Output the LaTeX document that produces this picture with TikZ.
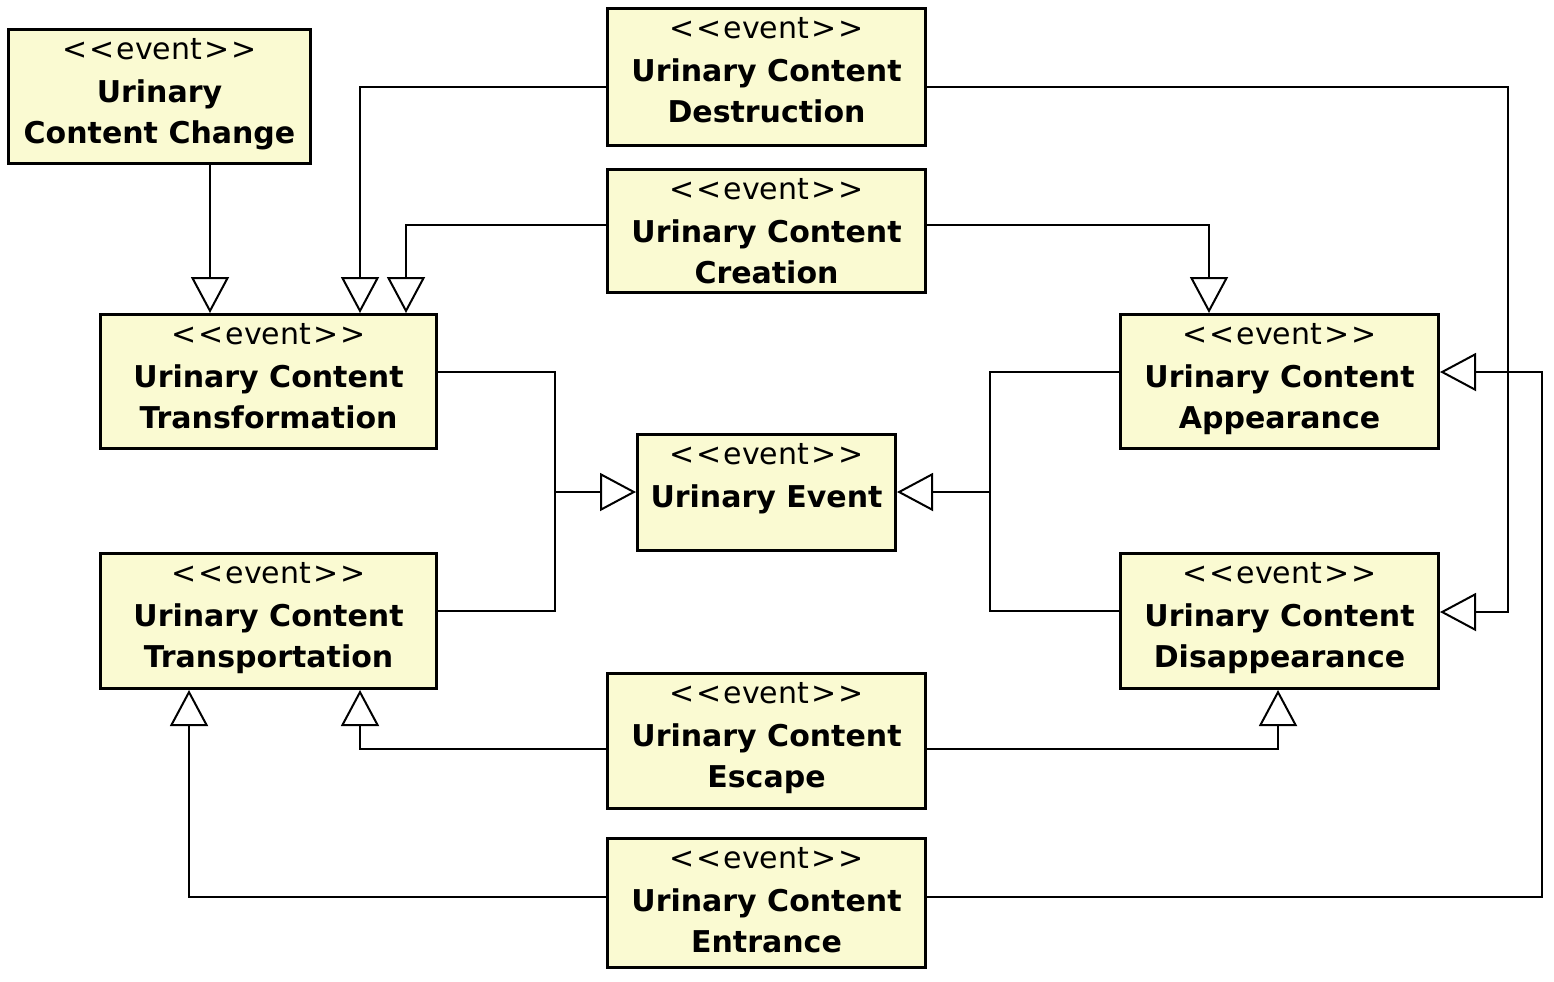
\documentclass[tikz,border=0pt]{standalone}
\usepackage{fontspec}
\setmainfont{DejaVu Sans}
\usetikzlibrary{arrows.meta}
\definecolor{evfill}{RGB}{250,250,210}
\newcommand{\evfont}{\fontsize{15}{20.5}\selectfont}
\newcommand{\stereo}{\rule{0pt}{15.5pt}<\kern1pt<\kern1pt event\kern1pt>\kern1pt>\\[1pt]}
\tikzset{
  evbox/.style={draw, line width=1.5pt, fill=evfill, inner sep=0pt},
  evtext/.style={anchor=north, inner sep=0pt, align=center, font=\evfont},
  link/.style={line width=1pt},
  gen/.style={link, -{Triangle[open, length=18pt, width=19pt]}}
}
\begin{document}
\begin{tikzpicture}[x=0.5pt, y=-0.5pt]
\useasboundingbox (0,0) rectangle (1554,981);
% event classes
\node[evbox, minimum width=151pt, minimum height=67pt, label={[evtext]north:{\stereo\textbf{Urinary}\\\textbf{Content Change}}}] (chg) at (159.5,96.5) {};
\node[evbox, minimum width=159pt, minimum height=68.5pt, label={[evtext]north:{\stereo\textbf{Urinary Content}\\\textbf{Destruction}}}] (dstr) at (766.5,77) {};
\node[evbox, minimum width=159pt, minimum height=61.5pt, label={[evtext]north:{\stereo\textbf{Urinary Content}\\\textbf{Creation}}}] (crt) at (766.5,231) {};
\node[evbox, minimum width=168pt, minimum height=67pt, label={[evtext]north:{\stereo\textbf{Urinary Content}\\\textbf{Transformation}}}] (trf) at (268.5,381.5) {};
\node[evbox, minimum width=159pt, minimum height=67pt, label={[evtext]north:{\stereo\textbf{Urinary Content}\\\textbf{Appearance}}}] (app) at (1279.5,381.5) {};
\node[evbox, minimum width=129pt, minimum height=58pt, label={[evtext]north:{\stereo\textbf{Urinary Event}}}] (evt) at (766.5,492.5) {};
\node[evbox, minimum width=168pt, minimum height=67.5pt, label={[evtext]north:{\stereo\textbf{Urinary Content}\\\textbf{Transportation}}}] (trp) at (268.5,621) {};
\node[evbox, minimum width=159pt, minimum height=67.5pt, label={[evtext]north:{\stereo\textbf{Urinary Content}\\\textbf{Disappearance}}}] (dis) at (1279.5,621) {};
\node[evbox, minimum width=159pt, minimum height=67.5pt, label={[evtext]north:{\stereo\textbf{Urinary Content}\\\textbf{Escape}}}] (esc) at (766.5,741) {};
\node[evbox, minimum width=159pt, minimum height=64.5pt, label={[evtext]north:{\stereo\textbf{Urinary Content}\\\textbf{Entrance}}}] (ent) at (766.5,903) {};
% junctions
\coordinate (jl) at (555,492);
\coordinate (jr) at (990,492);
% generalisations
\draw[gen] (chg.south -| 210,0) -- (trf.north -| 210,0);
\draw[gen] (dstr.west |- 0,87) -| (trf.north -| 360,0);
\draw[gen] (crt.west |- 0,225) -| (trf.north -| 406,0);
\draw[gen] (crt.east |- 0,225) -| (app.north -| 1209,0);
\draw[gen] (dstr.east |- 0,87) -| (1508,612) -- (dis.east |- 0,612);
\draw[gen] (ent.east |- 0,897) -| (1542,372) -- (app.east |- 0,372);
\draw[link] (trf.east |- 0,372) -| (jl);
\draw[link] (trp.east |- 0,611) -| (jl);
\draw[gen] (jl) -- (evt.west |- jl);
\draw[link] (app.west |- 0,372) -| (jr);
\draw[link] (dis.west |- 0,611) -| (jr);
\draw[gen] (jr) -- (evt.east |- jr);
\draw[gen] (esc.west |- 0,749) -| (trp.south -| 360,0);
\draw[gen] (esc.east |- 0,749) -| (dis.south -| 1278,0);
\draw[gen] (ent.west |- 0,897) -| (trp.south -| 189,0);
\end{tikzpicture}
\end{document}
